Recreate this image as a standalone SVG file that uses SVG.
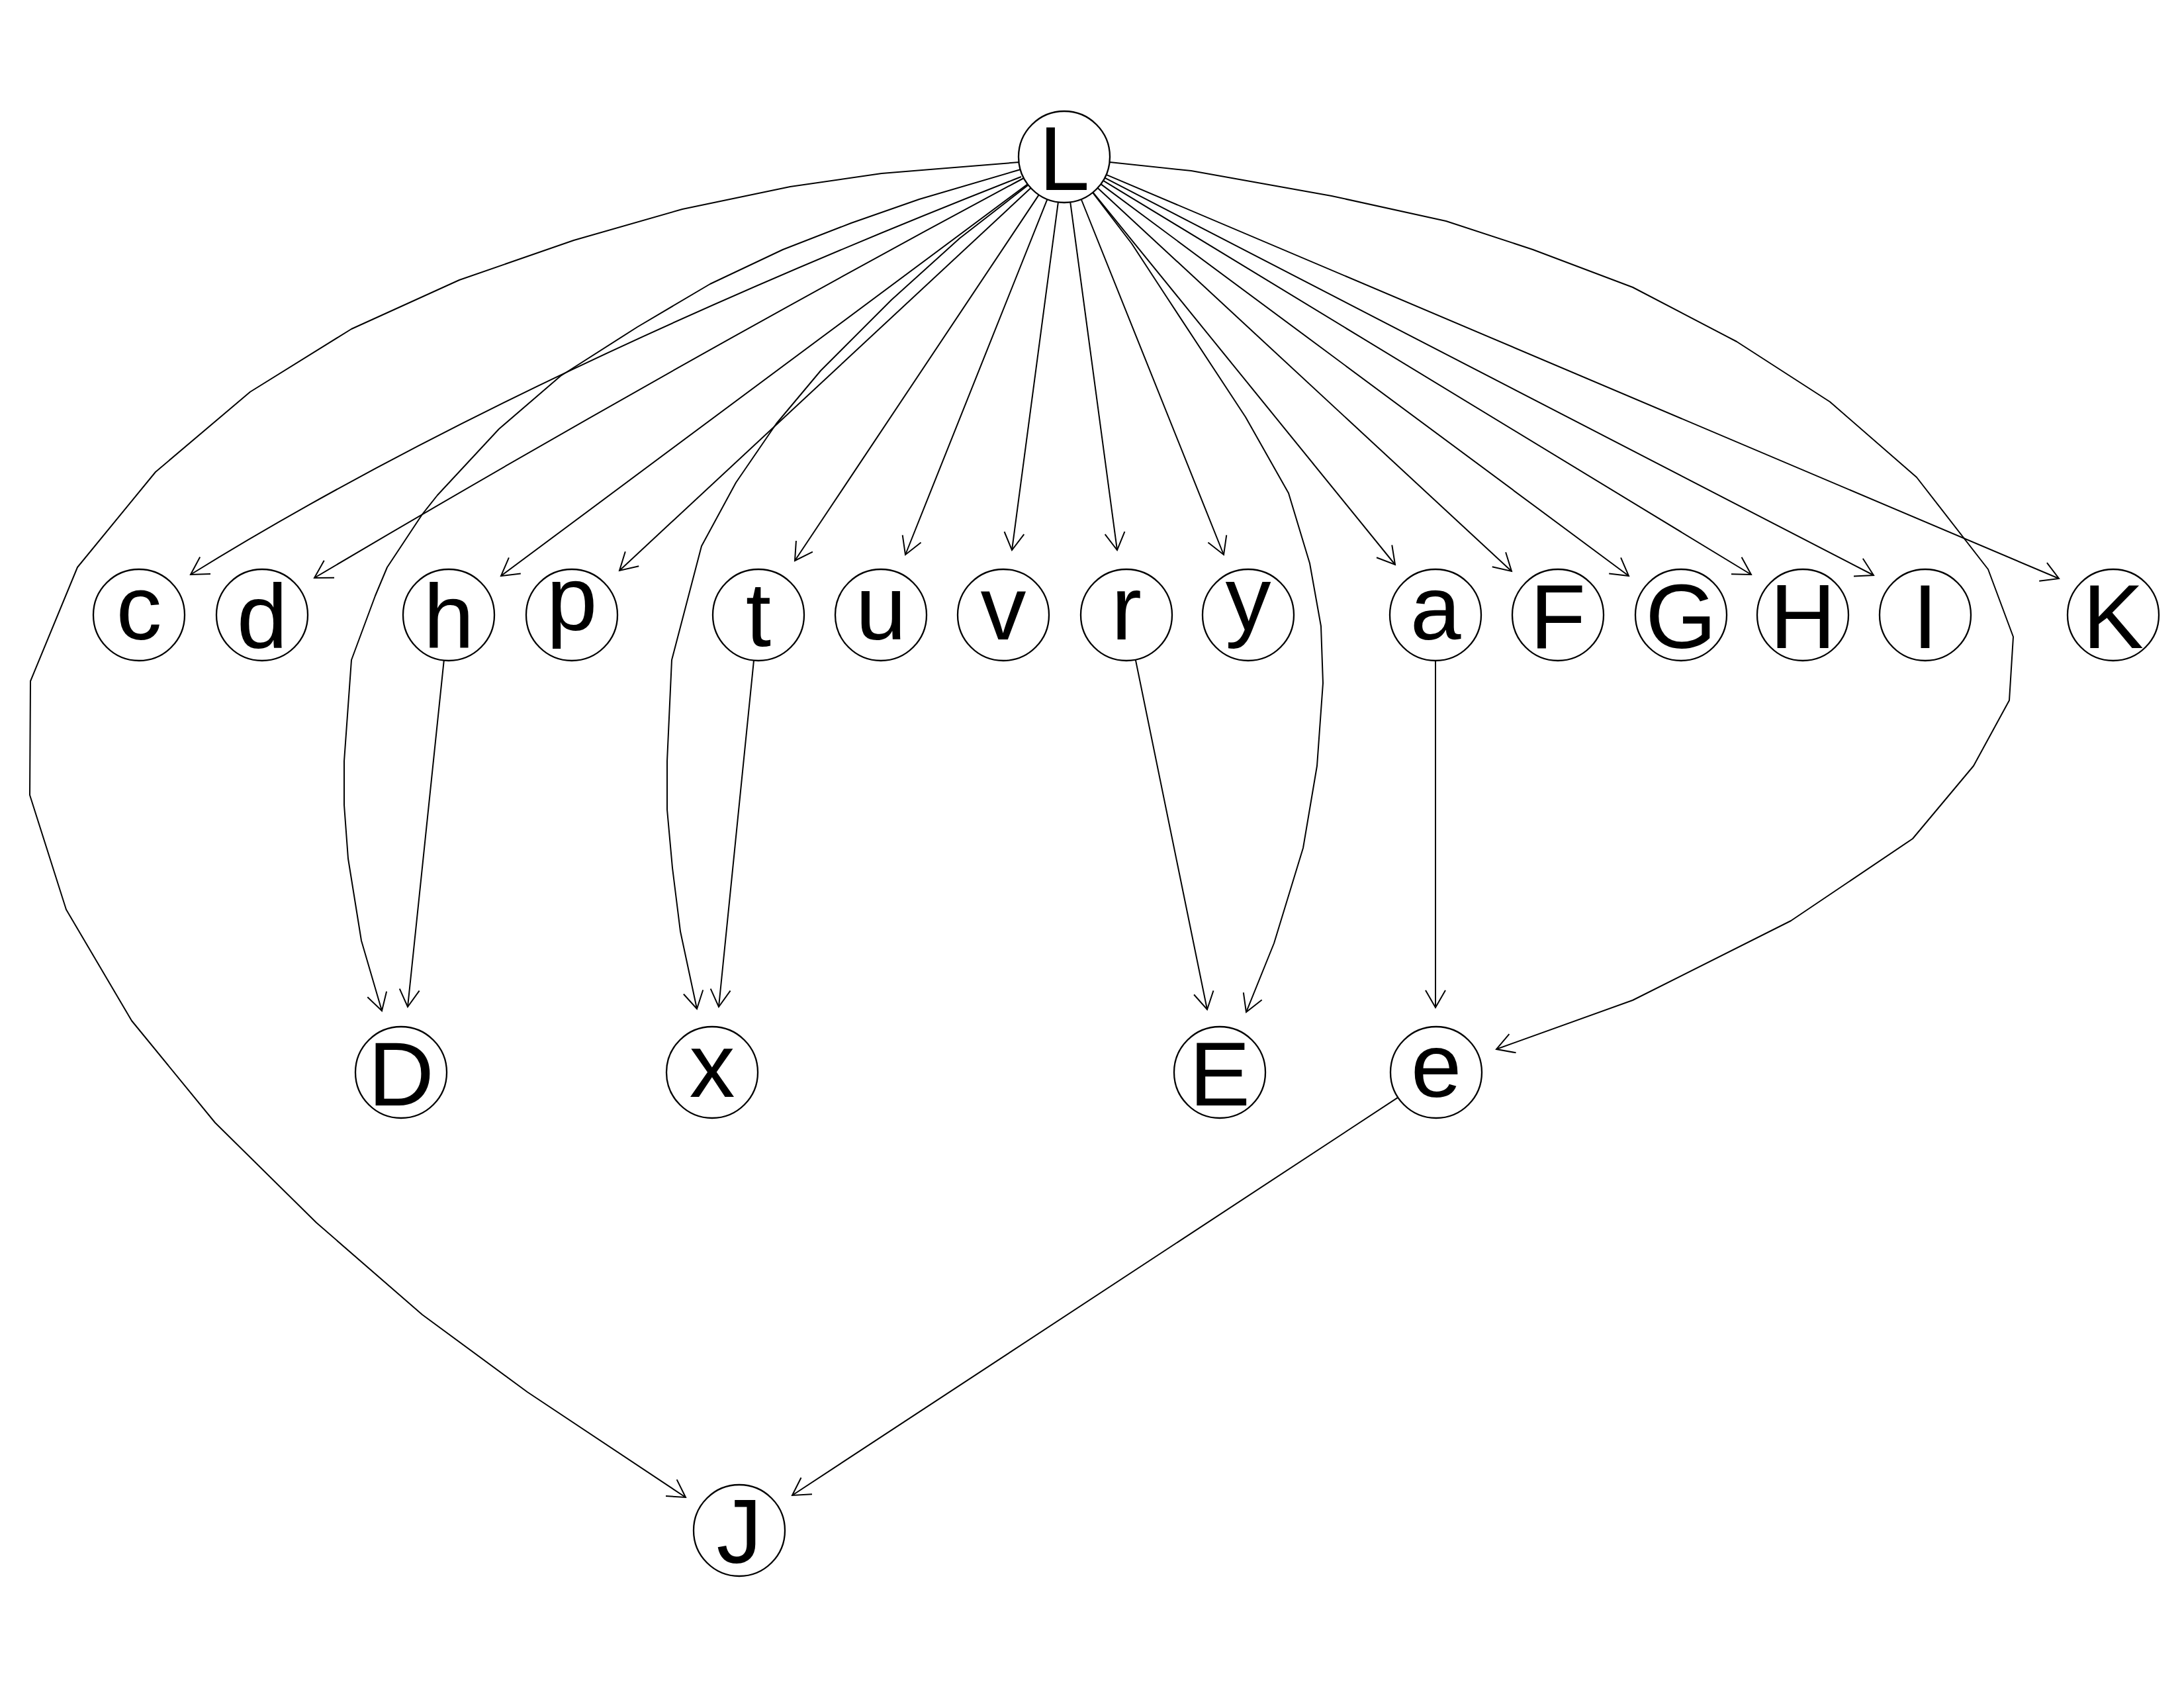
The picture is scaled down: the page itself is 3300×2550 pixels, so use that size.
<svg xmlns="http://www.w3.org/2000/svg" width="3300" height="2550" viewBox="0 0 3300 2550">
<defs>
<style>
.n circle { fill: #ffffff; stroke: #000000; stroke-width: 2.3; }
.n text { font-family: "Liberation Sans", Arial, sans-serif; font-size: 138px; text-anchor: middle; fill: #000000; }
.e { fill: none; stroke: #000000; stroke-width: 2; stroke-linejoin: round; marker-end: url(#arr); }
</style>
<marker id="arr" markerUnits="userSpaceOnUse" viewBox="-35 -20 40 40" markerWidth="40" markerHeight="40" refX="0" refY="0" orient="auto" overflow="visible">
<path d="M-26,-15 L0,0 L-26,15" fill="none" stroke="#000000" stroke-width="2"/>
</marker>
</defs>
<rect width="3300" height="2550" fill="#ffffff"/>
<g id="connectors">
<path class="e" d="M1543,267 Q764.5,572.5 288,868"/>
<path class="e" d="M1547,269 Q1011,555.5 475,873"/>
<path class="e" d="M1552.6,278.2 L757,870"/>
<path class="e" d="M1557.5,284 L936,862"/>
<path class="e" d="M1569.7,294.4 L1201,847"/>
<path class="e" d="M1582.4,301.1 L1368,838"/>
<path class="e" d="M1598.9,305.4 L1529,831"/>
<path class="e" d="M1617.2,305.4 L1688,831"/>
<path class="e" d="M1633.7,301 L1849,838"/>
<path class="e" d="M1651.5,290.6 L2108,853"/>
<path class="e" d="M1658.6,283.9 L2284,863"/>
<path class="e" d="M1663.4,278.1 L2461,870"/>
<path class="e" d="M1667,272.8 L2646,868"/>
<path class="e" d="M1669.3,268.7 L2831,869"/>
<path class="e" d="M1671.5,263.9 L3111,874"/>
<path class="e" d="M670.8,997.6 L616,1521"/>
<path class="e" d="M1139,997.7 L1086,1521"/>
<path class="e" d="M1715.8,996.6 L1824,1525"/>
<path class="e" d="M2169,998 L2169,1522"/>
<path class="e" d="M2112.3,1657.9 L1197,2259"/>
<path class="e" d="M1540,245 L1332,262 L1194,282 L1031,316 L867,363 L694,423 L531,497 L378,592 L235,713 L117,857 L46,1029 L45,1201 L100,1374 L199,1542 L325,1696 L478,1847 L638,1986 L797,2103 L1036,2262"/>
<path class="e" d="M1542,256 L1389,301 L1286,337 L1183,377 L1073,429 L963,494 L847,568 L754,648 L661,748 L638,777 L585,857 L567,900 L531,997 L520,1150 L520,1216 L526,1297 L546,1421 L577,1527"/>
<path class="e" d="M1553,280 L1450,360 L1347,453 L1240,560 L1173,640 L1112,729 L1060,825 L1015,997 L1008,1150 L1008,1223 L1016,1311 L1028,1407 L1053,1524"/>
<path class="e" d="M1651,291 L1710,368 L1763,449 L1882,630 L1947,745 L1979,851 L1996,946 L1999,1032 L1990,1157 L1969,1281 L1925,1425 L1883,1529"/>
<path class="e" d="M1677,245 L1800,258 L2012,296 L2185,334 L2316,377 L2467,434 L2624,516 L2765,607 L2896,721 L3004,860 L3042,962 L3036,1058 L2982,1157 L2890,1267 L2706,1391 L2467,1511 L2261,1585"/>
</g>
<g id="node-L" class="n"><circle cx="1608" cy="237" r="69"/><text x="1608" y="287">L</text></g>
<g id="node-c" class="n"><circle cx="210" cy="929" r="69"/><text x="210" y="966">c</text></g>
<g id="node-d" class="n"><circle cx="396" cy="929" r="69"/><text x="396" y="979">d</text></g>
<g id="node-h" class="n"><circle cx="678" cy="929" r="69"/><text x="678" y="979">h</text></g>
<g id="node-p" class="n"><circle cx="864" cy="929" r="69"/><text x="864" y="951">p</text></g>
<g id="node-t" class="n"><circle cx="1146" cy="929" r="69"/><text x="1146" y="976">t</text></g>
<g id="node-u" class="n"><circle cx="1331" cy="929" r="69"/><text x="1331" y="966">u</text></g>
<g id="node-v" class="n"><circle cx="1516" cy="929" r="69"/><text x="1516" y="966">v</text></g>
<g id="node-r" class="n"><circle cx="1702" cy="929" r="69"/><text x="1702" y="966">r</text></g>
<g id="node-y" class="n"><circle cx="1886" cy="929" r="69"/><text x="1886" y="951">y</text></g>
<g id="node-a" class="n"><circle cx="2169" cy="929" r="69"/><text x="2169" y="966">a</text></g>
<g id="node-F" class="n"><circle cx="2354" cy="929" r="69"/><text x="2354" y="979">F</text></g>
<g id="node-G" class="n"><circle cx="2540" cy="929" r="69"/><text x="2540" y="979">G</text></g>
<g id="node-H" class="n"><circle cx="2724" cy="929" r="69"/><text x="2724" y="979">H</text></g>
<g id="node-I" class="n"><circle cx="2909" cy="929" r="69"/><text x="2909" y="979">I</text></g>
<g id="node-K" class="n"><circle cx="3193" cy="929" r="69"/><text x="3193" y="979">K</text></g>
<g id="node-D" class="n"><circle cx="606" cy="1620" r="69"/><text x="606" y="1670">D</text></g>
<g id="node-x" class="n"><circle cx="1076" cy="1620" r="69"/><text x="1076" y="1657">x</text></g>
<g id="node-E" class="n"><circle cx="1843" cy="1620" r="69"/><text x="1843" y="1670">E</text></g>
<g id="node-e" class="n"><circle cx="2170" cy="1620" r="69"/><text x="2170" y="1657">e</text></g>
<g id="node-J" class="n"><circle cx="1117" cy="2312" r="69"/><text x="1117" y="2361">J</text></g>
</svg>
